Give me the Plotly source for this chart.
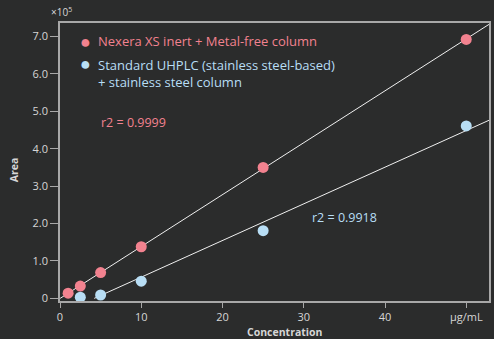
import numpy as np
import plotly.graph_objects as go

# Calibration data (area in units of 1e5)
conc_inert = [1, 2.5, 5, 10, 25, 50]
area_inert = [0.14, 0.33, 0.69, 1.38, 3.50, 6.92]
conc_steel = [2.5, 5, 10, 25, 50]
area_steel = [0.03, 0.09, 0.46, 1.81, 4.61]

name_inert = "Nexera XS inert + Metal-free column"
name_steel = "Standard UHPLC (stainless steel-based)<br>+ stainless steel column"
r2_inert = "r2 = 0.9999"
r2_steel = "r2 = 0.9918"

x_ticks = [0, 10, 20, 30, 40, 50]
x_ticklabels = ["0", "10", "20", "30", "40", "µg/mL"]
y_ticks = [0, 1, 2, 3, 4, 5, 6, 7]
y_ticklabels = ["0", "1.0", "2.0", "3.0", "4.0", "5.0", "6.0", "7.0"]

PINK = "#f2828f"
BLUE = "#b8def5"
BG = "#2b2c2c"
TXT = "#d6d6d6"
AX = "#a8a8a8"
FONT = "Open Sans"

W, H = 494, 339
ML, MR, MT, MB = 60, 3, 23, 38
X_MAX = 52.8

fig = go.Figure()

# least-squares calibration lines
for xs, ys in [(conc_inert, area_inert), (conc_steel, area_steel)]:
    m, b = np.polyfit(xs, ys, 1)
    x0 = max(0.0, -b / m)
    lx = np.array([x0, X_MAX])
    fig.add_trace(go.Scatter(x=lx, y=m * lx + b, mode="lines",
                             line=dict(color="#f0f0f0", width=1),
                             showlegend=False, hoverinfo="skip"))

fig.add_trace(go.Scatter(x=conc_inert, y=area_inert, mode="markers",
                         marker=dict(color=PINK, size=11),
                         name=name_inert, showlegend=False))
fig.add_trace(go.Scatter(x=conc_steel, y=area_steel, mode="markers",
                         marker=dict(color=BLUE, size=11),
                         name=name_steel, showlegend=False))


def px_x(p):
    return (p - ML) / (W - ML - MR)


def px_y(p):
    return 1 - (p - MT) / (H - MT - MB)


def note(x, y, text, color, size, xanchor="left", yanchor="middle", **kw):
    fig.add_annotation(xref="paper", yref="paper", x=px_x(x), y=px_y(y),
                       text=text, showarrow=False, xanchor=xanchor,
                       yanchor=yanchor, align="left",
                       font=dict(color=color, size=size, family=FONT), **kw)


# legend block
note(86, 41, "●", PINK, 18, xanchor="center")
note(96, 41, name_inert, PINK, 13)
note(86, 63, "●", BLUE, 18, xanchor="center")
note(96, 63, name_steel, BLUE, 13, yanchor="top", yshift=9)

# fit quality
fig.add_annotation(x=4.8, y=4.69, text=r2_inert, showarrow=False,
                   xanchor="left", font=dict(color=PINK, size=12.5, family=FONT))
fig.add_annotation(x=30.8, y=2.16, text=r2_steel, showarrow=False,
                   xanchor="left", font=dict(color=BLUE, size=12.5, family=FONT))

# scale factor and axis titles
note(49, 12, "×10<sup>5</sup>", TXT, 10)
note(286, 332, "<b>Concentration</b>", TXT, 10.5, xanchor="center")
note(14, 170, "<b>Area</b>", TXT, 10.5, xanchor="center", textangle=-90)

fig.update_layout(
    width=W, height=H,
    margin=dict(l=ML, r=MR, t=MT, b=MB),
    paper_bgcolor=BG, plot_bgcolor=BG,
    font=dict(family=FONT, color=TXT, size=11),
    showlegend=False,
    xaxis=dict(range=[0, X_MAX], tickvals=x_ticks, ticktext=x_ticklabels,
               showgrid=False, zeroline=False, showline=True, mirror=True,
               linecolor=AX, linewidth=1.5, ticks="outside", ticklen=5,
               tickcolor=AX, tickfont=dict(size=11, color=TXT)),
    yaxis=dict(range=[-0.07, 7.36], tickvals=y_ticks, ticktext=y_ticklabels,
               showgrid=False, zeroline=False, showline=True, mirror=True,
               linecolor=AX, linewidth=1.5, ticks="outside", ticklen=8,
               tickcolor=AX, tickfont=dict(size=11, color=TXT)),
)

fig.write_html("out.html")
